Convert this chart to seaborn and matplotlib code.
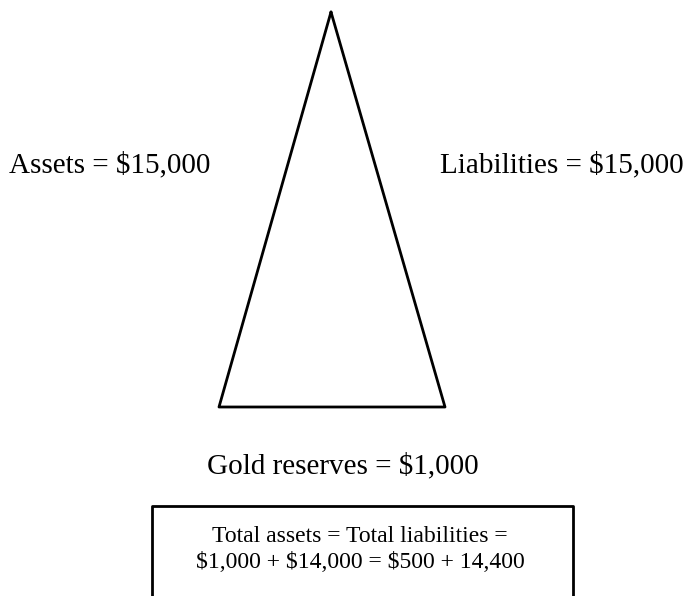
import numpy as np
import pandas as pd
import seaborn as sns
import matplotlib.pyplot as plt

# labels and values shown in the diagram
asset_label = 'Assets = $15,000'
liab_label = 'Liabilities = $15,000'
gold_label = 'Gold reserves = $1,000'
box_lines = ['Total assets = Total liabilities =',
             '$1,000 + $14,000 = $500 + 14,400']

# triangle outline (pixel space)
tri_x = [331, 445, 219, 331]
tri_y = [12, 407, 407, 12]
# open box at the bottom
box_x = [152, 152, 573, 573]
box_y = [600, 506, 506, 600]

sns.set_style('white')
plt.rcParams['font.family'] = ['Liberation Serif', 'DejaVu Serif']
plt.rcParams['text.color'] = 'black'

fig = plt.figure(figsize=(6.86, 5.96), dpi=100)
ax = fig.add_axes([0, 0, 1, 1])

tri = pd.DataFrame({'x': tri_x, 'y': tri_y})
box = pd.DataFrame({'x': box_x, 'y': box_y})
sns.lineplot(data=tri, x='x', y='y', sort=False, estimator=None, color='black', lw=2, ax=ax)
sns.lineplot(data=box, x='x', y='y', sort=False, estimator=None, color='black', lw=2, ax=ax)

ax.text(9, 165, asset_label, fontsize=21, ha='left', va='center', color='black')
ax.text(440, 165, liab_label, fontsize=21, ha='left', va='center', color='black')
ax.text(343, 466, gold_label, fontsize=21, ha='center', va='center', color='black')
ax.text(360, 536, box_lines[0], fontsize=17, ha='center', va='center', color='black')
ax.text(360, 563, box_lines[1], fontsize=17, ha='center', va='center', color='black')

ax.set_xlim(0, 686)
ax.set_ylim(596, 0)
ax.axis('off')

fig.savefig('out.png', dpi=100, facecolor='white')
